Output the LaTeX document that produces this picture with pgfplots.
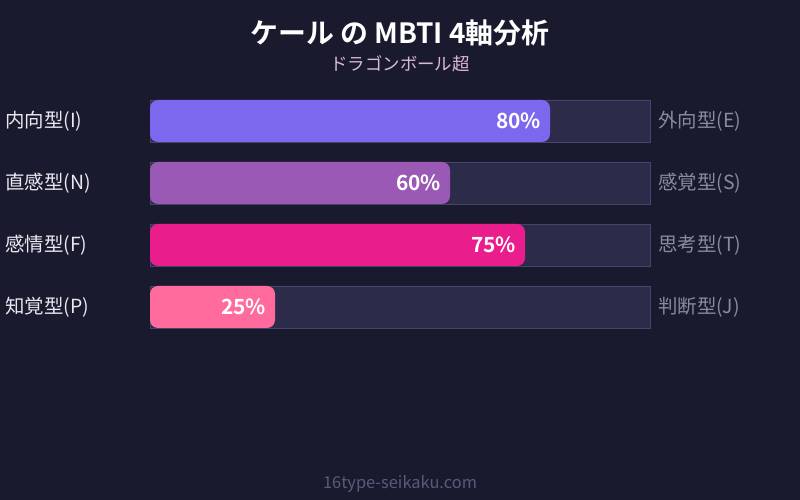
\documentclass[border=0pt]{standalone}
\usepackage{fontspec}
\setmainfont{Noto Sans CJK JP}[BoldFont={Noto Sans CJK JP Bold}]
\usepackage{pgfplots}
\pgfplotsset{compat=1.18}

\definecolor{bg}{HTML}{1A1A2E}
\definecolor{track}{HTML}{2C2B4A}
\definecolor{trackline}{HTML}{45446A}
\definecolor{barI}{HTML}{7B68EE}
\definecolor{barN}{HTML}{9B59B6}
\definecolor{barF}{HTML}{E91E8C}
\definecolor{barP}{HTML}{FF6B9D}
\definecolor{lefttext}{HTML}{E8E8F0}
\definecolor{righttext}{HTML}{8A8AA0}
\definecolor{subtext}{HTML}{DDB8DD}
\definecolor{foot}{HTML}{5A5A7A}

\newcommand{\fs}[1]{\fontsize{#1}{#1}\selectfont}
\tikzset{
  lbl/.style={anchor=west, text=lefttext, font=\fs{19.5}, inner sep=0pt},
  rbl/.style={anchor=west, text=righttext, font=\fs{19.5}, inner sep=0pt},
}

\begin{document}
\begin{tikzpicture}
\begin{axis}[
  scale only axis, width=800bp, height=500bp,
  xmin=-30, xmax=130, ymin=0, ymax=500, y dir=reverse,
  axis line style={draw=none}, ticks=none,
  axis background/.style={fill=bg},
  clip=false,
  /pgf/number format/assume math mode=true,
  every node near coord/.append style={anchor=east, xshift=-5.5bp,
    font=\bfseries\fs{21}, text=white},
]
% tracks (100%)
\addplot[xbar, bar width=42, bar shift=0pt, fill=track, draw=trackline, line width=0.8bp]
  coordinates {(100,121) (100,183) (100,245) (100,307)};
% values
\addplot[xbar, bar width=42, bar shift=0pt, fill=barI, draw=none, rounded corners=8bp,
  nodes near coords={\pgfmathprintnumber{\pgfplotspointmeta}\%}]
  coordinates {(80,121)};
\addplot[xbar, bar width=42, bar shift=0pt, fill=barN, draw=none, rounded corners=8bp,
  nodes near coords={\pgfmathprintnumber{\pgfplotspointmeta}\%}]
  coordinates {(60,183)};
\addplot[xbar, bar width=42, bar shift=0pt, fill=barF, draw=none, rounded corners=8bp,
  nodes near coords={\pgfmathprintnumber{\pgfplotspointmeta}\%}]
  coordinates {(75,245)};
\addplot[xbar, bar width=42, bar shift=0pt, fill=barP, draw=none, rounded corners=8bp,
  nodes near coords={\pgfmathprintnumber{\pgfplotspointmeta}\%}]
  coordinates {(25,307)};

% titles
\node[text=white, font=\bfseries\fs{28}] at (axis cs:50,33) {ケール の MBTI 4軸分析};
\node[text=subtext, font=\fs{17.5}] at (axis cs:50,64) {ドラゴンボール超};
\node[text=foot, font=\fs{16.5}] at (axis cs:50,484) {16type-seikaku.com};

% side labels
\node[lbl] at (axis cs:-29,121) {内向型(I)};
\node[lbl] at (axis cs:-29,183) {直感型(N)};
\node[lbl] at (axis cs:-29,245) {感情型(F)};
\node[lbl] at (axis cs:-29,307) {知覚型(P)};
\node[rbl] at (axis cs:101.6,121) {外向型(E)};
\node[rbl] at (axis cs:101.6,183) {感覚型(S)};
\node[rbl] at (axis cs:101.6,245) {思考型(T)};
\node[rbl] at (axis cs:101.6,307) {判断型(J)};
\end{axis}
\end{tikzpicture}
\end{document}
